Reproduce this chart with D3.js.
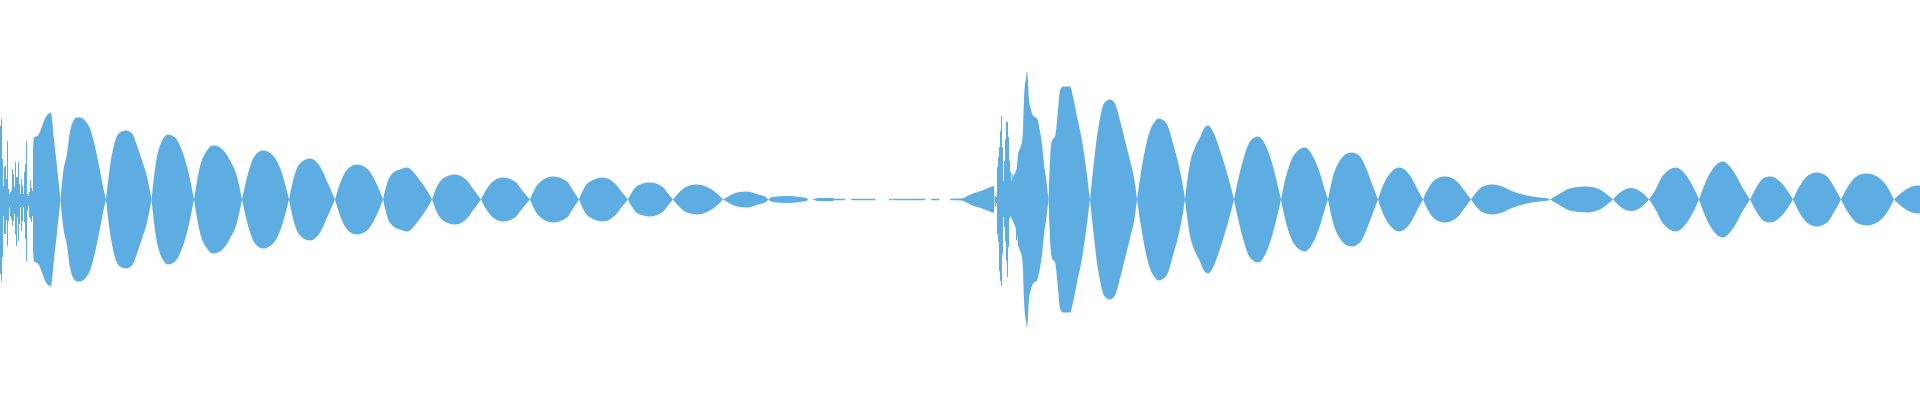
<!DOCTYPE html>
<html>
<head>
<meta charset="utf-8">
<script src="https://cdn.jsdelivr.net/npm/d3@7"></script>
<style>
  html, body { margin: 0; padding: 0; background: #ffffff; }
  svg { display: block; }
</style>
</head>
<body>
<svg id="chart" width="1920" height="400"></svg>
<script>
// ---- Data (sample index, envelope amplitude) ----
const envX = [
  33,34,38,42,45,49,51,52,54,57,60.5,
  63,67,70,73,77,80,85,90,95,100,103,106,
  110,115,120,126,132,137,142,147,151.5,
  157,160,164,168,175,182,188,194,
  200,207,213,220,230,237,242,
  248,255,263,273,282,289,
  295,300,310,320,328,335,
  342,348,357,367,375,383,
  388,395,400,407,413,420,427,432,
  437,443,455,467,475,481,
  487,493,503,515,523,530,
  535,542,553,567,573,579,
  585,592,603,615,623,628,
  633,640,650,662,668,673,
  680,687,697,708,717,723,
  730,737,747,758,765,768,
  773,787,800,807,808,
  813,813.5,816,817,833,834,845,845.5,
  851,851.5,875,875.5,
  889,889.5,892,892.5,
  893,893.5,925,925.5,
  931,931.5,939,939.5,
  950,950.5,962,967,973,980,987,992,994,994.5,
  1016.5,1018,1020,1022,1023,1024,1026,1027,1028,1029,1031,1033,1037,1040,1042,1044,1046,1048.5,
  1050,1052,1055,1058,1060,1063,1070,1073,1077,1082,1085,1088,1090,
  1093,1097,1100,1104,1110,1115,1120,1125,1130,1135,1137,
  1143,1150,1155,1158,1165,1168,1173,1180,1183,1185,
  1190,1195,1200,1204,1208,1212,1217,1222,1228,1234,
  1238,1243,1250,1258,1267,1273,1278,1281,
  1285,1290,1297,1305,1313,1320,1325,1328,
  1333,1340,1347,1352,1360,1367,1373,1378,
  1383,1390,1399,1410,1418,1423,
  1430,1437,1445,1457,1465,1471,
  1477,1483,1493,1502,1513,1527,1540,1548,1550,
  1560,1570,1587,1600,1607,1613,
  1620,1631,1642,1649,
  1655,1663,1676,1687,1695,1699,
  1705,1713,1723,1733,1743,1750,
  1757,1763,1770,1782,1788,1793,
  1800,1808,1817,1827,1835,1841,
  1850,1858,1867,1877,1887,1894,
  1903,1912,1918,1920
];
const envA = [
  50,62,64,73,81,86,87,81,60,33,0,
  26,46,68,78,82,82,79,71,53,29,13,0,
  33,58,67,69,66,54,39,23,0,
  43,54,62,65,62,49,29,0,
  33,49,54,52,39,23,0,
  26,44,49,44,26,0,
  26,36,41,33,16,0,
  21,31,35,31,19,0,
  19,28,30,32,28,19,9,0,
  13,21,25,19,8,0,
  11,18,22,18,8,0,
  11,19,23,18,9,0,
  13,19,22,16,6,0,
  9,15,17,13,6,0,
  8,13,15,12,6,0,
  4,7,8,5,3,0,
  2.5,3.5,2.5,1.3,0,
  0,0.75,0.75,1.6,1.6,0.75,0.75,0,
  0,0.75,0.75,0,
  0,0.75,0.75,0,
  0,0.75,0.75,0,
  0,0.75,0.75,0,
  0,0.75,1,3.3,6,8.3,11,13,13.3,0,
  30,45,51,58,70,100,122,128,118,100,90,84,81,68,55,35,22,0,
  39,59,63,89,109,113,113,103,83,59,39,16,0,
  29,63,81,96,100,96,79,59,39,16,0,
  39,69,78,81,78,73,56,29,13,0,
  36,52,62,71,74,70,58,43,23,0,
  19,39,58,63,51,33,13,0,
  19,36,48,52,43,26,9,0,
  23,39,46,47,43,29,13,0,
  14,26,32,24,9,0,
  14,21,23,18,8,0,
  8,13,15,13,8,4,2,1,0,
  6,11,13,10,5,0,
  7,11.6,7,0,
  9,24,32,23,9,0,
  16,31,38,29,11,0,
  13,21,23,16,8,0,
  14,24,27,23,11,0,
  16,24,26,23,13,0,
  8,13,14,14
];

// Transient bursts, one value per sample (upper / lower excursion)
const burst1Start = 0;
const burst1Up   = [74,81,41,14,33,34,21,59,11,6,8,9,31,26,13,38,23,23,38,16,6,21,14,6,28,36,59,6,4,8,20,12,9];
const burst1Down = [74,81,57,16,34,34,20,46,21,7,16,19,26,21,14,34,46,17,41,24,7,31,21,7,22,39,61,11,6,17,19,22,16];
const burst2Start = 995;
const burst2Up   = [4,3,33,43,53,69,84,53,19,39,61,78,78,63,39,28,16,26,13,11,4,30];
const burst2Down = [6,3,34,42,71,81,86,54,17,27,41,61,77,47,19,12,17,14,7,17,6,40];

// ---- Chart ----
const W = 1920, H = 400;
const color = "#5DADE2";
const svg = d3.select("#chart");
svg.append("rect").attr("width", W).attr("height", H).attr("fill", "#ffffff");

const x = d3.scaleLinear().domain([0, 1920]).range([0, W]);
const y = d3.scaleLinear().domain([-200, 200]).range([399.5, -0.5]);

// envelope segments split at nodes
const pts = envX.map((v, i) => ({ x: v, a: envA[i] }));
const segs = [];
let cur = [];
pts.forEach(p => {
  cur.push(p);
  if (p.a === 0 && cur.length > 1) { segs.push(cur); cur = [p]; }
});
if (cur.length > 1) segs.push(cur);

const area = d3.area()
  .x(d => x(d.x))
  .y0(d => y(-d.a))
  .y1(d => y(d.a))
  .curve(d3.curveMonotoneX);

svg.append("g").selectAll("path")
  .data(segs.filter(s => s.some(p => p.a > 0)))
  .join("path")
  .attr("d", area)
  .attr("fill", color);

function drawBurst(start, up, down) {
  const data = up.map((u, i) => ({ i: start + i, u, d: down[i] }));
  svg.append("g").selectAll("rect")
    .data(data)
    .join("rect")
    .attr("x", d => x(d.i))
    .attr("width", x(1) - x(0))
    .attr("y", d => y(d.u))
    .attr("height", d => y(-d.d) - y(d.u))
    .attr("fill", color)
    .attr("shape-rendering", "crispEdges");
}
drawBurst(burst1Start, burst1Up, burst1Down);
drawBurst(burst2Start, burst2Up, burst2Down);
</script>
</body>
</html>
